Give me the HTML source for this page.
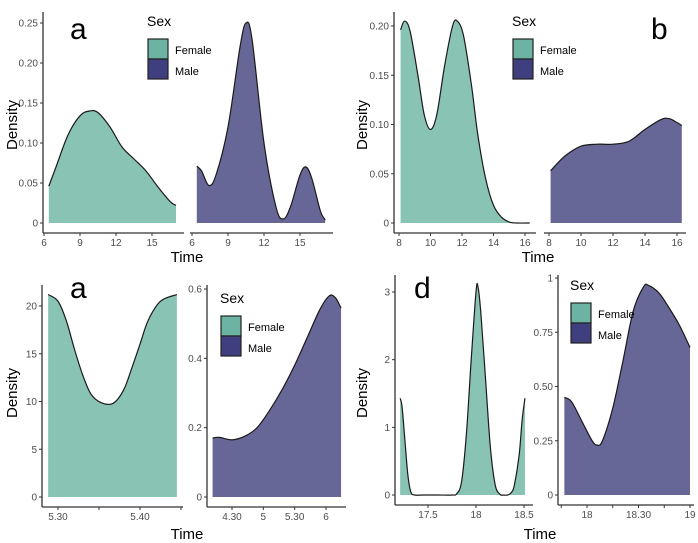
<!DOCTYPE html>
<html><head><meta charset="utf-8"><style>
html,body{margin:0;padding:0;background:#fff;}
svg{display:block;font-family:"Liberation Sans",sans-serif;}
</style></head><body>
<svg id="chart" width="698" height="543" viewBox="0 0 698 543" xmlns="http://www.w3.org/2000/svg"></svg>
<script>
// ---- data ----
// Panel a (top-left)
const aFemaleTime = [6.4,7,8,9,9.8,10.5,11.5,12.5,13.5,14.5,15.5,16.5,17];
const aFemaleDens = [0.046,0.07,0.11,0.134,0.14,0.138,0.12,0.095,0.08,0.065,0.045,0.027,0.022];
const aMaleTime = [6.4,6.8,7.4,8,9,10,10.5,11,12,13,13.6,14.2,15,15.5,16,16.7,17.1];
const aMaleDens = [0.071,0.065,0.047,0.06,0.12,0.22,0.25,0.23,0.10,0.02,0.005,0.02,0.06,0.07,0.055,0.015,0.004];
const aXTicks = [6,9,12,15];
const aXTickLabels = ["6","9","12","15"];
const aYTicks = [0,0.05,0.10,0.15,0.20,0.25];
const aYTickLabels = ["0","0.05","0.10","0.15","0.20","0.25"];
// Panel b (top-right)
const bFemaleTime = [8.1,8.35,8.7,9.2,9.6,10,10.4,10.9,11.4,11.7,12.1,12.6,13,13.5,14,14.5,15,15.5,16.3];
const bFemaleDens = [0.196,0.205,0.195,0.15,0.11,0.095,0.11,0.16,0.2,0.205,0.19,0.14,0.09,0.045,0.018,0.006,0.001,0,0];
const bMaleTime = [8.1,9,10,11,12,13,14,15,15.5,16,16.3];
const bMaleDens = [0.053,0.068,0.078,0.08,0.08,0.083,0.095,0.105,0.106,0.102,0.099];
const bXTicks = [8,10,12,14,16];
const bXTickLabels = ["8","10","12","14","16"];
const bYTicks = [0,0.05,0.10,0.15,0.20];
const bYTickLabels = ["0","0.05","0.10","0.15","0.20"];
// Panel c (bottom-left)
const cFemaleTime = [5.288,5.30,5.31,5.32,5.33,5.34,5.352,5.367,5.38,5.39,5.40,5.41,5.425,5.445];
const cFemaleDens = [21.2,20.5,18.5,15.5,12.8,10.8,9.9,9.8,11.2,13.5,16,18.5,20.5,21.2];
const cFXTicks = [5.30,5.35,5.40,5.45];
const cFXTickLabels = ["5.30","","5.40",""];
const cFYTicks = [0,5,10,15,20];
const cFYTickLabels = ["0","5","10","15","20"];
const cMaleTime = [4.19,4.3,4.5,4.7,4.9,5.1,5.3,5.5,5.7,5.9,6.05,6.15,6.24];
const cMaleDens = [0.17,0.172,0.165,0.175,0.2,0.25,0.31,0.38,0.46,0.54,0.58,0.575,0.545];
const cMXTicks = [4.5,5,5.5,6];
const cMXTickLabels = ["4.30","5","5.30","6"];
const cMYTicks = [0,0.2,0.4,0.6];
const cMYTickLabels = ["0","0.2","0.4","0.6"];
// Panel d (bottom-right)
const dFemaleTime = [17.21,17.23,17.26,17.29,17.32,17.36,17.45,17.6,17.75,17.8,17.85,17.9,17.95,18.0,18.02,18.05,18.1,18.15,18.2,18.25,18.29,18.33,18.37,18.4,18.45,18.48,18.51];
const dFemaleDens = [1.43,1.3,0.8,0.3,0.05,0,0,0,0,0.02,0.2,0.9,2.0,3.0,3.08,2.7,1.7,0.7,0.15,0.01,0,0,0.04,0.15,0.6,1.1,1.43];
const dFXTicks = [17.5,18,18.5];
const dFXTickLabels = ["17.5","18","18.5"];
const dFYTicks = [0,1,2,3];
const dFYTickLabels = ["0","1","2","3"];
const dMaleTime = [17.78,17.85,17.95,18.05,18.1,18.15,18.25,18.35,18.45,18.55,18.6,18.7,18.8,18.9,19.0];
const dMaleDens = [0.45,0.43,0.34,0.25,0.23,0.25,0.4,0.62,0.85,0.96,0.965,0.93,0.86,0.78,0.68];
const dMXTicks = [17.75,18,18.25,18.5,18.75,19];
const dMXTickLabels = ["","18","","18.30","","19"];
const dMYTicks = [0,0.25,0.5,0.75,1];
const dMYTickLabels = ["0","0.25","0.50","0.75","1"];

const svg = document.getElementById('chart');
const NS = 'http://www.w3.org/2000/svg';
function mk(tag, attrs, parent){const e=document.createElementNS(NS,tag);for(const k in attrs)e.setAttribute(k,attrs[k]);(parent||svg).appendChild(e);return e;}
function lin(d0,d1,r0,r1){return v=>r0+(v-d0)*(r1-r0)/(d1-d0);}
function smooth(pts){
  let d='M'+pts[0][0]+','+pts[0][1];
  for(let i=0;i<pts.length-1;i++){
    const p0=pts[i-1]||pts[i],p1=pts[i],p2=pts[i+1],p3=pts[i+2]||p2;
    const c1x=p1[0]+(p2[0]-p0[0])/6,c1y=p1[1]+(p2[1]-p0[1])/6;
    const c2x=p2[0]-(p3[0]-p1[0])/6,c2y=p2[1]-(p3[1]-p1[1])/6;
    d+=' C'+c1x+','+c1y+' '+c2x+','+c2y+' '+p2[0]+','+p2[1];
  }
  return d;
}
function area(xs,ys,X,Y,fill,name){
  const pts=xs.map((v,i)=>[X(v),Y(ys[i])]);
  const line=smooth(pts);
  const base=Y(0);
  const a=mk('path',{d:line+' L'+pts[pts.length-1][0]+','+base+' L'+pts[0][0]+','+base+' Z',fill:fill,stroke:'none'});
  
  
  const l=mk('path',{d:line,fill:'none',stroke:'#1a1a1a','stroke-width':1.2});
  
  
}
function xAxis(x0,x1,y,ticks,labels,X,name){
  const g=mk('g',{});
  
  
  mk('line',{x1:x0,x2:x1,y1:y,y2:y,stroke:'#333','stroke-width':1.3},g);
  ticks.forEach((t,i)=>{
    mk('line',{x1:X(t),x2:X(t),y1:y,y2:y+3,stroke:'#333','stroke-width':1},g);
    if(labels[i]){const tx=mk('text',{x:X(t),y:y+13,'text-anchor':'middle','font-size':10,fill:'#4d4d4d'},g);tx.textContent=labels[i];}
  });
}
function yAxis(x,y0,y1,ticks,labels,Y,name){
  const g=mk('g',{});
  
  
  mk('line',{x1:x,x2:x,y1:y0,y2:y1,stroke:'#333','stroke-width':1.3},g);
  ticks.forEach((t,i)=>{
    mk('line',{x1:x-3,x2:x,y1:Y(t),y2:Y(t),stroke:'#333','stroke-width':1},g);
    const tx=mk('text',{x:x-5,y:Y(t)+3.5,'text-anchor':'end','font-size':10,fill:'#4d4d4d'},g);tx.textContent=labels[i];
  });
}
function text(x,y,s,size,name,extra){
  const t=mk('text',Object.assign({x:x,y:y,'font-size':size,fill:'#000'},extra||{}));
  t.textContent=s;
  
  
  return t;
}
function legend(x,y,name){
  const g=mk('g',{});
  
  
  const t=mk('text',{x:x-1,y:y,'font-size':14,fill:'#000'},g);t.textContent='Sex';
  mk('rect',{x:x,y:y+13,width:20,height:20,fill:'#6cb3a3',stroke:'#222','stroke-width':1.2},g);
  mk('rect',{x:x,y:y+33,width:20,height:20,fill:'#3f3f80',stroke:'#222','stroke-width':1.2},g);
  const f=mk('text',{x:x+27,y:y+28,'font-size':11,fill:'#000'},g);f.textContent='Female';
  const m=mk('text',{x:x+27,y:y+49,'font-size':11,fill:'#000'},g);m.textContent='Male';
}
const FEM='#89c3b4', MAL='#676797';

// Panel a
{
  const Y=lin(0,0.25,223,23);
  const X1=lin(6,15,44,152), X2=lin(6,15,192,300);
  area(aFemaleTime,aFemaleDens,X1,Y,FEM,'panel-a-female');
  area(aMaleTime,aMaleDens,X2,Y,MAL,'panel-a-male');
  yAxis(43,12,233,aYTicks,aYTickLabels,Y,'panel-a-y-axis');
  xAxis(43,184,233,aXTicks,aXTickLabels,X1,'panel-a-female-x-axis');
  xAxis(190,333,233,aXTicks,aXTickLabels,X2,'panel-a-male-x-axis');
  text(70,39,'a',30,'panel-a-label');
  text(187,262,'Time',15,'panel-a-x-title',{'text-anchor':'middle'});
  text(17,125,'Density',15,'panel-a-y-title',{'text-anchor':'middle',transform:'rotate(-90 17 125)'});
  legend(148,26,'panel-a-legend');
}
// Panel b
{
  const Y=lin(0,0.20,223,26);
  const X1=lin(8,16,399,525), X2=lin(8,16,549,677);
  area(bFemaleTime,bFemaleDens,X1,Y,FEM,'panel-b-female');
  area(bMaleTime,bMaleDens,X2,Y,MAL,'panel-b-male');
  yAxis(394,12,233,bYTicks,bYTickLabels,Y,'panel-b-y-axis');
  xAxis(394,536,233,bXTicks,bXTickLabels,X1,'panel-b-female-x-axis');
  xAxis(544,686,233,bXTicks,bXTickLabels,X2,'panel-b-male-x-axis');
  text(651,39,'b',30,'panel-b-label');
  text(538,262,'Time',15,'panel-b-x-title',{'text-anchor':'middle'});
  text(367,125,'Density',15,'panel-b-y-title',{'text-anchor':'middle',transform:'rotate(-90 367 125)'});
  legend(513,26,'panel-b-legend');
}
// Panel c
{
  const Y1=lin(0,20,497,306), X1=lin(5.30,5.40,58,140);
  area(cFemaleTime,cFemaleDens,X1,Y1,FEM,'panel-c-female');
  yAxis(42,285,507,cFYTicks,cFYTickLabels,Y1,'panel-c-female-y-axis');
  xAxis(42,183,507,cFXTicks,cFXTickLabels,X1,'panel-c-female-x-axis');
  const Y2=lin(0,0.6,497,289), X2=lin(4.5,6,232,326);
  area(cMaleTime,cMaleDens,X2,Y2,MAL,'panel-c-male');
  yAxis(207,285,507,cMYTicks,cMYTickLabels,Y2,'panel-c-male-y-axis');
  xAxis(207,346,507,cMXTicks,cMXTickLabels,X2,'panel-c-male-x-axis');
  text(70,298,'a',30,'panel-c-label');
  text(187,539,'Time',15,'panel-c-x-title',{'text-anchor':'middle'});
  text(17,393,'Density',15,'panel-c-y-title',{'text-anchor':'middle',transform:'rotate(-90 17 393)'});
  legend(221,303,'panel-c-legend');
}
// Panel d
{
  const Y1=lin(0,3,495,292), X1=lin(17.5,18.5,428,524);
  area(dFemaleTime,dFemaleDens,X1,Y1,FEM,'panel-d-female');
  yAxis(395,275,505,dFYTicks,dFYTickLabels,Y1,'panel-d-female-y-axis');
  xAxis(395,533,505,dFXTicks,dFXTickLabels,X1,'panel-d-female-x-axis');
  const Y2=lin(0,1,495,278), X2=lin(18,19,587,690);
  area(dMaleTime,dMaleDens,X2,Y2,MAL,'panel-d-male');
  yAxis(558,275,505,dMYTicks,dMYTickLabels,Y2,'panel-d-male-y-axis');
  xAxis(558,694,505,dMXTicks,dMXTickLabels,X2,'panel-d-male-x-axis');
  text(414,298,'d',30,'panel-d-label');
  text(540,539,'Time',15,'panel-d-x-title',{'text-anchor':'middle'});
  text(367,393,'Density',15,'panel-d-y-title',{'text-anchor':'middle',transform:'rotate(-90 367 393)'});
  legend(571,290,'panel-d-legend');
}
</script>
</body></html>
